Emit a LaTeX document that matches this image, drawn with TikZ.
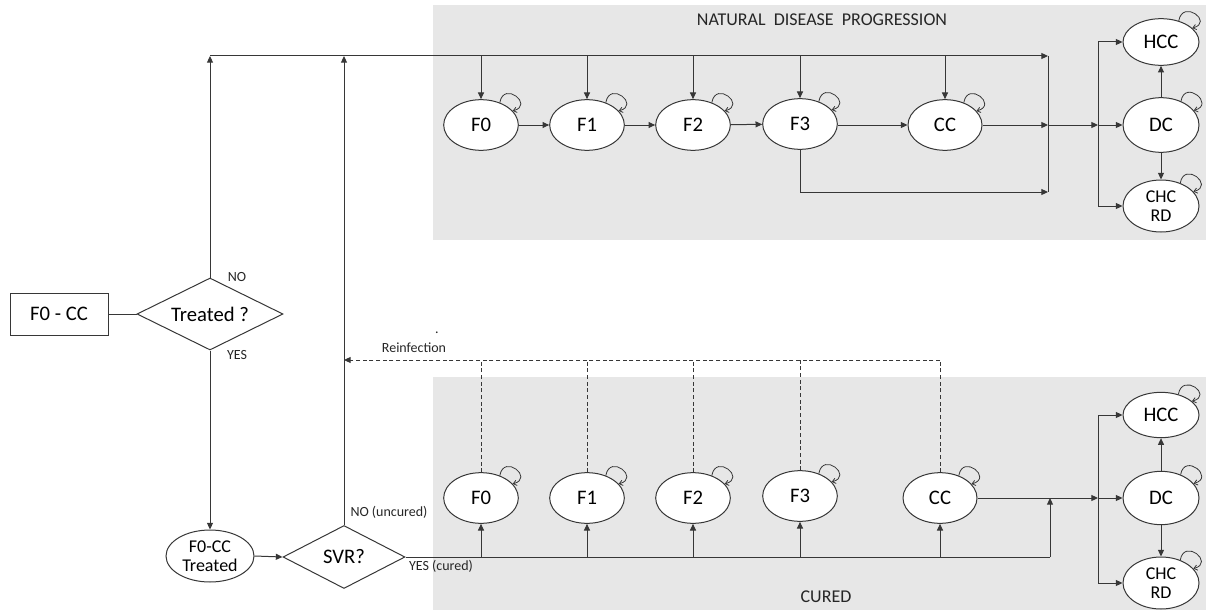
\documentclass[tikz,border=0pt]{standalone}
\usepackage{fontspec}
\setmainfont{Carlito}
\usetikzlibrary{shapes.geometric,arrows.meta}
\definecolor{bg}{RGB}{231,231,231}
\definecolor{ln}{RGB}{55,55,55}
\newcommand\selfloop[1]{\draw[loopline] (#1.50) .. controls +(80:17pt) and +(15:17pt) .. (#1.24);}
\begin{document}
\begin{tikzpicture}[x=0.75pt,y=-0.75pt,
  line/.style={draw=ln,line width=0.75pt},
  arr/.style={line,-{Triangle[length=5pt,width=4.5pt]}},
  dsh/.style={line,dash pattern=on 3pt off 2pt},
  loopline/.style={draw=ln,line width=0.6pt,-{Straight Barb[length=2.5pt,width=4pt]}},
  panel/.style={fill=bg,draw=none},
  state/.style={ellipse,draw=ln,line width=0.75pt,fill=white,minimum width=56pt,minimum height=38pt,inner sep=0pt,font=\fontsize{15.5}{16}\selectfont},
  endstate/.style={state,minimum width=57pt},
  decision/.style={diamond,aspect=2,draw=ln,line width=0.75pt,fill=white,inner sep=0pt,font=\fontsize{15.5}{16}\selectfont},
  startbox/.style={rectangle,draw=ln,line width=0.75pt,fill=white,minimum width=73.5pt,minimum height=31.5pt,font=\fontsize{15.5}{16}\selectfont},
  small/.style={inner sep=0pt,font=\fontsize{10.5}{12}\selectfont,text=black!85},
  title/.style={inner sep=0pt,font=\fontsize{13.5}{15}\selectfont,text=black!85}
]
\useasboundingbox (0,0) rectangle (1206,610);
% panels
\path[panel] (433,5) rectangle (1206,240);
\path[panel] (433,377) rectangle (1206,610);
\node[title] (ttop) at (822,20) {NATURAL\ \ DISEASE\ \ PROGRESSION};
\node[title] (tbot) at (826,597) {CURED};

% left part
\node[startbox] (start) at (59,314) {F0 - CC};
\node[decision,minimum width=109.5pt,minimum height=54pt] (treat) at (210,314) {Treated ?};
\node[state,minimum width=66pt,minimum height=39pt,font=\fontsize{13.5}{15}\selectfont,align=center] (f0cc) at (210,556) {F0-CC\\[-1pt]Treated};
\node[decision,minimum width=91.5pt,minimum height=47.25pt] (svr) at (344,557) {SVR?};
\node[small] (lno) at (237,277) {NO};
\node[small] (lyes) at (237,355) {YES};
\node[small] (lnou) at (389,512) {NO (uncured)};
\node[small] (lyesc) at (441,566) {YES (cured)};
\node[small] (lre) at (414,348) {Reinfection};
\node[small] (ldot) at (437,333) {.};

% top states
\node[state] (F0t) at (481,125) {F0};
\node[state] (F1t) at (587,125) {F1};
\node[state] (F2t) at (693,125) {F2};
\node[state] (F3t) at (800,124) {F3};
\node[state,minimum width=55.5pt] (CCt) at (945,125) {CC};
\node[endstate,minimum height=35pt] (HCCt) at (1161,42) {HCC};
\node[endstate,minimum height=41pt] (DCt) at (1161,125) {DC};
\node[endstate,minimum height=39pt,font=\fontsize{13.5}{15}\selectfont,align=center] (CHCt) at (1161,206) {CHC\\[-1pt]RD};

% bottom states
\node[state] (F0b) at (481,498) {F0};
\node[state] (F1b) at (587,498) {F1};
\node[state] (F2b) at (693,498) {F2};
\node[state] (F3b) at (800,496) {F3};
\node[state,minimum width=55.5pt] (CCb) at (940,498) {CC};
\node[endstate,minimum height=34pt] (HCCb) at (1161,415) {HCC};
\node[endstate,minimum height=40pt] (DCb) at (1161,498) {DC};
\node[endstate,minimum height=39pt,font=\fontsize{13.5}{15}\selectfont,align=center] (CHCb) at (1161,583) {CHC\\[-1pt]RD};

% coordinates
\coordinate (tl) at (210,56);
\coordinate (tm) at (344,56);
\coordinate (tr) at (1048,56);
\coordinate (trb) at (1048,192);
\coordinate (b2t) at (1098,42);
\coordinate (b2b) at (1098,206);
\coordinate (bl) at (1050,557);
\coordinate (b4t) at (1098,415);
\coordinate (b4b) at (1098,583);
\coordinate (rl) at (344,360);

% left connectors
\draw[line] (start.east) -- (treat.west);
\draw[arr] (treat.north) -- (tl);
\draw[arr] (treat.south) -- (f0cc.north);
\draw[arr] (f0cc.east) -- (svr.west);
\draw[arr] (svr.north) -- (tm);

% top connectors
\draw[arr] (tl) -- (tr);
\foreach \n in {F0t,F1t,F2t,F3t,CCt} \draw[arr] (\n |- tl) -- (\n.north);
\draw[arr] (F0t) -- (F1t);
\draw[arr] (F1t) -- (F2t);
\draw[arr] (F2t) -- (F3t);
\draw[arr] (F3t.east |- CCt) -- (CCt.west);
\draw[line] (tr) -- (trb);
\draw[arr] (CCt.east) -- (CCt -| tr);
\draw[arr] (F3t.south) |- (trb);
\draw[arr] (CCt -| tr) -- (CCt -| b2t);
\draw[line] (b2t) -- (b2b);
\draw[arr] (b2t) -- (HCCt.west);
\draw[arr] (DCt -| b2t) -- (DCt.west);
\draw[arr] (b2b) -- (CHCt.west);
\draw[arr] (DCt.north) -- (HCCt.south);
\draw[arr] (DCt.south) -- (CHCt.north);

% bottom connectors
\draw[line] (svr.east) -- (bl);
\foreach \n in {F0b,F1b,F2b,F3b,CCb} \draw[arr] (\n |- bl) -- (\n.south);
\draw[arr] (bl) -- (bl |- CCb);
\draw[arr] (CCb.east) -- (CCb -| b4t);
\draw[line] (b4t) -- (b4b);
\draw[arr] (b4t) -- (HCCb.west);
\draw[arr] (DCb -| b4t) -- (DCb.west);
\draw[arr] (b4b) -- (CHCb.west);
\draw[arr] (DCb.north) -- (HCCb.south);
\draw[arr] (DCb.south) -- (CHCb.north);

% reinfection
\foreach \n in {F0b,F1b,F2b,F3b,CCb} \draw[dsh] (\n.north) -- (\n |- rl);
\draw[dsh,-{Triangle[length=5pt,width=4.5pt]}] (CCb |- rl) -- (rl);

% self loops
\foreach \n in {F0t,F1t,F2t,F3t,CCt,HCCt,DCt,CHCt,F0b,F1b,F2b,F3b,CCb,HCCb,DCb,CHCb} {\selfloop{\n}}
\end{tikzpicture}
\end{document}
